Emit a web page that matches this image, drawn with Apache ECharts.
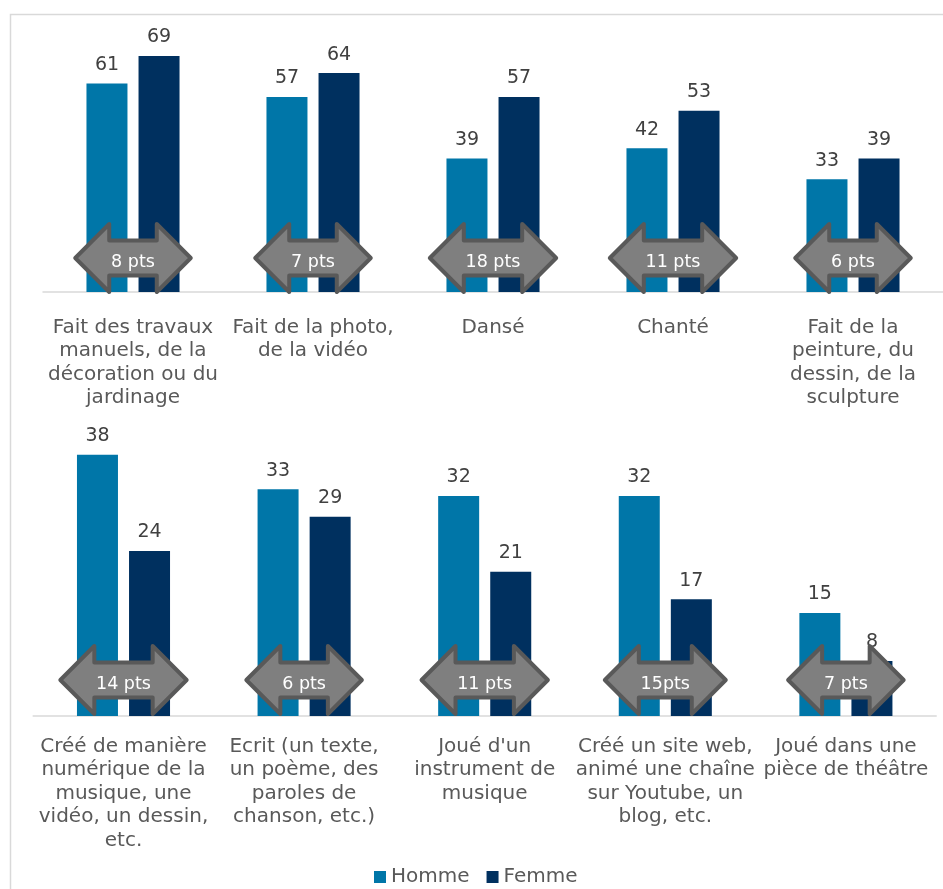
<!DOCTYPE html>
<html><head><meta charset="utf-8">
<script src="https://cdn.jsdelivr.net/npm/echarts@6/dist/echarts.min.js"></script>
<style>html,body{margin:0;padding:0;background:#fff}#c{width:943px;height:889px}</style>
</head><body><div id="c"></div>
<script>
const seriesNames = ['Homme', 'Femme'];
const topCategories = [
  'Fait des travaux\nmanuels, de la\ndécoration ou du\njardinage',
  'Fait de la photo,\nde la vidéo',
  'Dansé',
  'Chanté',
  'Fait de la\npeinture, du\ndessin, de la\nsculpture'
];
const topHomme = [61, 57, 39, 42, 33];
const topFemme = [69, 64, 57, 53, 39];
const topGapLabels = ['8 pts', '7 pts', '18 pts', '11 pts', '6 pts'];

const bottomCategories = [
  'Créé de manière\nnumérique de la\nmusique, une\nvidéo, un dessin,\netc.',
  'Ecrit (un texte,\nun poème, des\nparoles de\nchanson, etc.)',
  "Joué d'un\ninstrument de\nmusique",
  'Créé un site web,\nanimé une chaîne\nsur Youtube, un\nblog, etc.',
  'Joué dans une\npièce de théâtre'
];
const bottomHomme = [38, 33, 32, 32, 15];
const bottomFemme = [24, 29, 21, 17, 8];
const bottomGapLabels = ['14 pts', '6 pts', '11 pts', '15pts', '7 pts'];

const FONT = '"DejaVu Sans", Verdana, sans-serif';
const colors = ['#0076a8', '#00305f'];

const mctx = document.createElement('canvas').getContext('2d');
mctx.font = '17px "DejaVu Sans"';
function tw(t) { return mctx.measureText(t).width; }

function arrowRender(labels, lift) {
  return function (params, api) {
    const i = api.value(0);
    const base = api.coord([i, 0]);
    const label = labels[i];
    const w = tw(label) + 73, hl = 34, H = 68, S = 35;
    const cx = base[0], cy = base[1] - lift;
    const l = cx - w / 2, r = cx + w / 2;
    const pts = [[l, cy], [l + hl, cy - H / 2], [l + hl, cy - S / 2], [r - hl, cy - S / 2], [r - hl, cy - H / 2],
      [r, cy], [r - hl, cy + H / 2], [r - hl, cy + S / 2], [l + hl, cy + S / 2], [l + hl, cy + H / 2]];
    return {
      type: 'group', children: [
        { type: 'polygon', shape: { points: pts }, style: { fill: '#7f7f7f', stroke: '#595959', lineWidth: 4, lineJoin: 'round' } },
        { type: 'text', style: { text: label, x: cx, y: cy + 4, align: 'center', verticalAlign: 'middle', fill: '#ffffff', fontSize: 17.5, fontFamily: FONT } }
      ]
    };
  };
}

function xAxisFor(cats, gi, margin) {
  return {
    type: 'category', gridIndex: gi, data: cats,
    axisLine: { lineStyle: { color: '#d9d9d9', width: 1.5 } },
    axisTick: { show: false },
    axisLabel: { interval: 0, margin: margin, fontSize: 20, lineHeight: 23.5, color: '#595959', fontFamily: FONT }
  };
}
function yAxisFor(max, gi) {
  return { type: 'value', gridIndex: gi, min: 0, max: max, show: false, splitLine: { show: false } };
}
function barSeries(name, data, gi, ci) {
  return {
    type: 'bar', name: name, data: data, xAxisIndex: gi, yAxisIndex: gi,
    barWidth: 41, barGap: '27%',
    itemStyle: { color: colors[ci] },
    label: { show: true, position: 'top', distance: 9, fontSize: 19, color: '#404040', fontFamily: FONT },
    z: 2
  };
}

const chart = echarts.init(document.getElementById('c'), null, { renderer: 'canvas' });
chart.setOption({
  animation: false,
  backgroundColor: '#ffffff',
  graphic: [{ type: 'rect', left: 8, top: 12, shape: { width: 1000, height: 1000 }, style: { fill: 'none', stroke: '#d9d9d9', lineWidth: 1.5 }, z: -1, silent: true }],
  grid: [
    { left: 43, top: 52.6, width: 903.5, height: 239.4 },
    { left: 33.2, top: 441, width: 903, height: 275 }
  ],
  xAxis: [xAxisFor(topCategories, 0, 24), xAxisFor(bottomCategories, 1, 19)],
  yAxis: [yAxisFor(70, 0), yAxisFor(40, 1)],
  legend: {
    data: seriesNames, left: 369, top: 862, icon: 'rect', itemWidth: 12, itemHeight: 12, itemGap: 17,
    textStyle: { fontSize: 20, color: '#595959', fontFamily: FONT }
  },
  series: [
    barSeries(seriesNames[0], topHomme, 0, 0),
    barSeries(seriesNames[1], topFemme, 0, 1),
    barSeries(seriesNames[0], bottomHomme, 1, 0),
    barSeries(seriesNames[1], bottomFemme, 1, 1),
    { type: 'custom', xAxisIndex: 0, yAxisIndex: 0, data: topGapLabels.map((_, i) => [i, 0]), renderItem: arrowRender(topGapLabels, 34), z: 5, silent: true },
    { type: 'custom', xAxisIndex: 1, yAxisIndex: 1, data: bottomGapLabels.map((_, i) => [i, 0]), renderItem: arrowRender(bottomGapLabels, 36), z: 5, silent: true }
  ]
});
</script></body></html>
